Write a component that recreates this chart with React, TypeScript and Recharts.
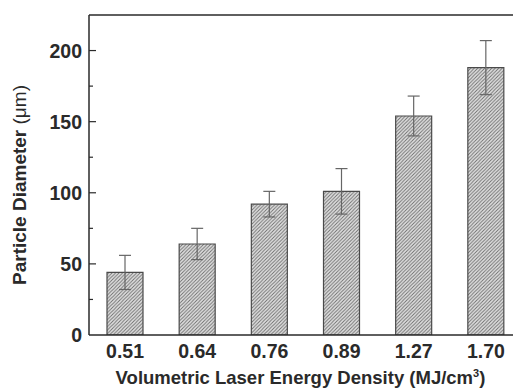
import React from "react";
import { BarChart, Bar, XAxis, YAxis, ErrorBar, ReferenceLine } from "recharts";

const categories = ["0.51", "0.64", "0.76", "0.89", "1.27", "1.70"];
const diameters = [44, 64, 92, 101, 154, 188];
const errors = [12, 11, 9, 16, 14, 19];
const yTicks = [0, 25, 50, 75, 100, 125, 150, 175, 200];
const yMax = 225;

const data = categories.map((c, i) => ({ cat: c, d: diameters[i], err: errors[i] }));

const FONT = "'Liberation Sans', Arial, sans-serif";
const INK = "#2a2a2a";

const YTick = (props: any) => {
  const { x, y, payload } = props;
  const v = payload.value as number;
  const major = v % 50 === 0;
  return (
    <g>
      {v !== 0 && (
        <line x1={x} x2={x + (major ? 7 : 4)} y1={y} y2={y} stroke={INK} strokeWidth={1.2} />
      )}
      {major && (
        <text x={x - 7} y={y} dy={7} textAnchor="end" fontFamily={FONT} fontWeight="bold" fontSize={19.5} fill={INK}>
          {v}
        </text>
      )}
    </g>
  );
};

const XTick = (props: any) => {
  const { x, y, payload } = props;
  return (
    <text x={x} y={y} dy={23} textAnchor="middle" fontFamily={FONT} fontWeight="bold" fontSize={19.5} fill={INK}>
      {payload.value}
    </text>
  );
};

const YTitle = (props: any) => {
  const vb = props.viewBox;
  const cx = 19;
  const cy = vb.y + vb.height / 2 + 10;
  return (
    <text x={cx} y={cy} transform={`rotate(-90 ${cx} ${cy})`} textAnchor="middle" dominantBaseline="central" fontFamily={FONT} fontSize={19} fill={INK}>
      <tspan fontWeight="bold">Particle Diameter </tspan>
      <tspan fontWeight="normal">(μm)</tspan>
    </text>
  );
};

const XTitle = (props: any) => {
  const vb = props.viewBox;
  const cx = vb.x + vb.width / 2 - 5;
  const baseline = vb.y + 49;
  return (
    <text x={cx} y={baseline} textAnchor="middle" fontFamily={FONT} fontSize={18.5} fill={INK}>
      <tspan fontWeight="bold">Volumetric Laser Energy Density </tspan>
      <tspan fontWeight="bold">(MJ/cm</tspan>
      <tspan fontWeight="bold" fontSize={11} dy={-7}>3</tspan>
      <tspan fontWeight="bold" dy={7}>)</tspan>
    </text>
  );
};

export default function App() {
  return (
    <div style={{ position: "absolute", left: 0, top: 0, width: 513, height: 390, overflow: "hidden", background: "#fff" }}>
      <BarChart width={530} height={390} data={data} margin={{ top: 15, right: 8, left: 0, bottom: 0 }} barSize={36}>
        <defs>
          <pattern id="hatch" patternUnits="userSpaceOnUse" width={3.5} height={3.5}>
            <rect width={3.5} height={3.5} fill="#e2e2e2" />
            <path d="M-1,1 l2,-2 M0,3.5 l3.5,-3.5 M2.5,4.5 l2,-2" stroke="#6a6a6a" strokeWidth={0.9} />
          </pattern>
        </defs>
        <XAxis
          dataKey="cat"
          height={55}
          axisLine={{ stroke: INK, strokeWidth: 1.5 }}
          tickLine={false}
          tickSize={0}
          tickMargin={0}
          tick={<XTick />}
          label={<XTitle />}
          interval={0}
        />
        <YAxis
          width={89}
          domain={[0, yMax]}
          ticks={yTicks}
          interval={0}
          axisLine={{ stroke: INK, strokeWidth: 1.5 }}
          tickLine={false}
          tickSize={0}
          tickMargin={0}
          tick={<YTick />}
          label={<YTitle />}
          allowDataOverflow
        />
        <ReferenceLine y={yMax} stroke={INK} strokeWidth={1.5} />
        <Bar dataKey="d" fill="url(#hatch)" stroke="#4a4a4a" strokeWidth={1.2} isAnimationActive={false}>
          <ErrorBar dataKey="err" width={6} stroke="#666" strokeWidth={1.2} direction="y" />
        </Bar>
      </BarChart>
    </div>
  );
}
